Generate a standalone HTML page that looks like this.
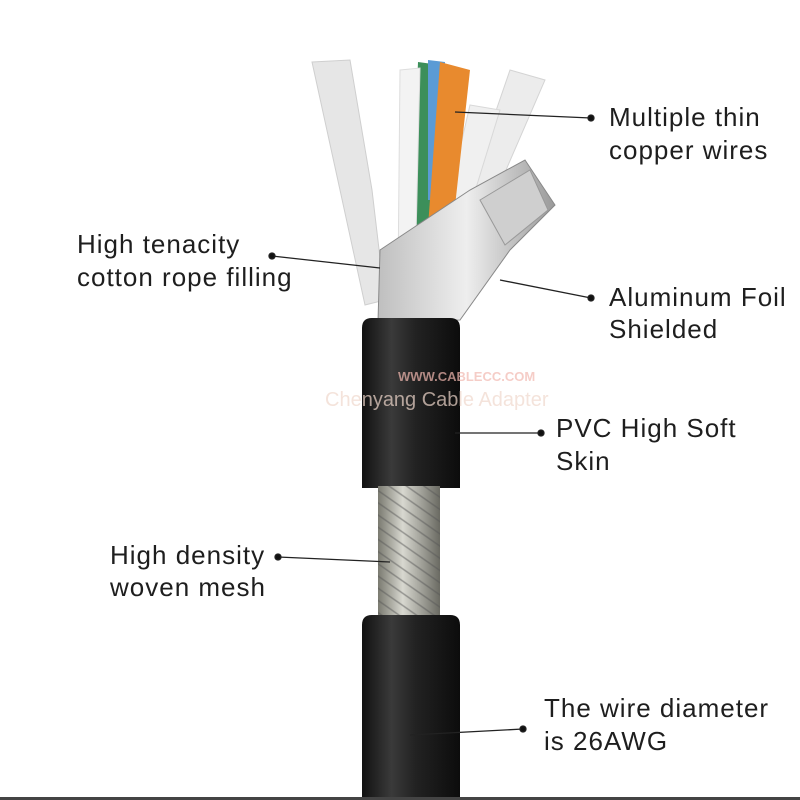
<!DOCTYPE html>
<html><head><meta charset="utf-8"><style>
html,body{margin:0;padding:0;background:#fff;}
svg{display:block}
text{font-family:"Liberation Sans",sans-serif;font-size:26px;letter-spacing:1px;fill:#1e1e1e;}
</style></head><body>
<svg width="800" height="800" viewBox="0 0 800 800" xmlns="http://www.w3.org/2000/svg">
<defs>
<linearGradient id="blk" x1="0" x2="1">
<stop offset="0" stop-color="#111"/><stop offset="0.3" stop-color="#3a3a3a"/><stop offset="0.55" stop-color="#222"/><stop offset="1" stop-color="#0c0c0c"/>
</linearGradient>
<linearGradient id="mesh" x1="0" x2="1">
<stop offset="0" stop-color="#7a7a70"/><stop offset="0.4" stop-color="#d8d8d0"/><stop offset="1" stop-color="#6a6a62"/>
</linearGradient>
<pattern id="weave" width="10" height="10" patternUnits="userSpaceOnUse" patternTransform="rotate(35)">
<rect width="10" height="10" fill="none"/><path d="M0 5H10" stroke="#555" stroke-width="1.5" opacity="0.5"/>
</pattern>
<linearGradient id="foil" x1="0" x2="1">
<stop offset="0" stop-color="#bfbfbf"/><stop offset="0.5" stop-color="#eeeeee"/><stop offset="1" stop-color="#9a9a9a"/>
</linearGradient>
</defs>
<rect width="800" height="800" fill="#fff"/>
<path d="M312 62 L350 60 L372 190 L385 300 L365 305 L340 190 Z" fill="#e6e6e6" stroke="#cfcfcf"/>
<path d="M510 70 L545 80 L480 230 L455 230 Z" fill="#ececec" stroke="#d4d4d4"/>
<path d="M470 105 L500 110 L460 240 L440 235 Z" fill="#f0f0f0" stroke="#d8d8d8"/>
<path d="M418 62 L440 65 L430 270 L410 270 Z" fill="#3c8f5a"/>
<path d="M428 60 L445 62 L440 200 L428 200 Z" fill="#5b9bd5"/>
<path d="M440 62 L470 70 L448 270 L425 268 Z" fill="#e88a2e"/>
<path d="M400 70 L420 68 L415 280 L398 280 Z" fill="#f3f3f3" stroke="#ddd"/>
<path d="M380 250 L470 190 L525 160 L555 205 L510 250 L460 320 L378 322 Z" fill="url(#foil)" stroke="#888"/>
<path d="M480 200 L530 170 L548 210 L505 245 Z" fill="#cfcfcf" stroke="#999"/>
<path d="M362 328 Q362 318 372 318 L450 318 Q460 318 460 328 L460 488 L362 488 Z" fill="url(#blk)"/>
<rect x="378" y="486" width="62" height="134" fill="url(#mesh)"/>
<rect x="378" y="486" width="62" height="134" fill="url(#weave)"/>
<path d="M362 625 Q362 615 372 615 L450 615 Q460 615 460 625 L460 800 L362 800 Z" fill="url(#blk)"/>
<rect x="0" y="797" width="800" height="3" fill="#444"/>
<text x="398" y="381" style="font-size:13px;letter-spacing:0;font-weight:bold;fill:#f2b8b0;opacity:0.7">WWW.CABLECC.COM</text>
<text x="325" y="406" style="font-size:20px;letter-spacing:0;fill:#f0d8cc;opacity:0.7">Chenyang Cable Adapter</text>
<g stroke="#222" stroke-width="1.3" fill="#111">
<line x1="591" y1="118" x2="455" y2="112"/><circle cx="591" cy="118" r="3"/>
<line x1="272" y1="256" x2="380" y2="268"/><circle cx="272" cy="256" r="3"/>
<line x1="591" y1="298" x2="500" y2="280"/><circle cx="591" cy="298" r="3"/>
<line x1="541" y1="433" x2="455" y2="433"/><circle cx="541" cy="433" r="3"/>
<line x1="278" y1="557" x2="390" y2="562"/><circle cx="278" cy="557" r="3"/>
<line x1="523" y1="729" x2="410" y2="735"/><circle cx="523" cy="729" r="3"/>
</g>
<text x="609" y="126">Multiple thin</text>
<text x="609" y="159">copper wires</text>
<text x="77" y="253">High tenacity</text>
<text x="77" y="286">cotton rope filling</text>
<text x="609" y="306">Aluminum Foil</text>
<text x="609" y="338">Shielded</text>
<text x="556" y="437">PVC High Soft</text>
<text x="556" y="470">Skin</text>
<text x="110" y="564">High density</text>
<text x="110" y="596">woven mesh</text>
<text x="544" y="717">The wire diameter</text>
<text x="544" y="750">is 26AWG</text>
</svg>
</body></html>
